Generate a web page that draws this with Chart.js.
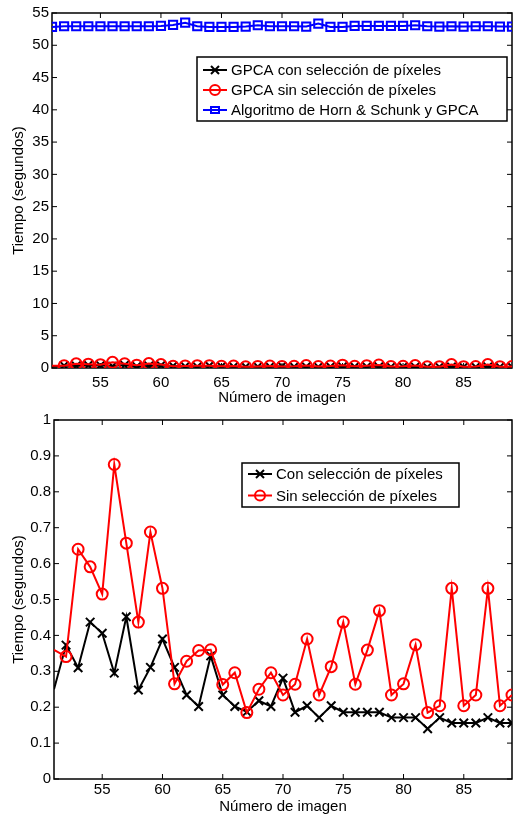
<!DOCTYPE html>
<html>
<head>
<meta charset="utf-8">
<script src="https://cdn.jsdelivr.net/npm/chart.js@4.4.0/dist/chart.umd.min.js"></script>
<style>
html, body { margin: 0; padding: 0; background: #fff; }
#wrap { position: relative; width: 520px; height: 817px; }
.box { position: absolute; left: 0; width: 520px; }
</style>
</head>
<body>
<div id="wrap">
    <div class="box" style="top:0;height:408px"><canvas id="chart-top"></canvas></div>
    <div class="box" style="top:408px;height:409px"><canvas id="chart-bottom"></canvas></div>
</div>
<script>
// datos
const imagenes = [51, 52, 53, 54, 55, 56, 57, 58, 59, 60, 61, 62, 63, 64, 65, 66, 67, 68, 69, 70,
                  71, 72, 73, 74, 75, 76, 77, 78, 79, 80, 81, 82, 83, 84, 85, 86, 87, 88, 89];
const conSeleccion = [0.25, 0.373, 0.31, 0.437, 0.406, 0.295, 0.452, 0.248, 0.311, 0.39,
                      0.311, 0.234, 0.202, 0.343, 0.234, 0.202, 0.187, 0.218, 0.202, 0.281,
                      0.186, 0.204, 0.171, 0.204, 0.186, 0.186, 0.186, 0.186, 0.171, 0.171,
                      0.171, 0.14, 0.171, 0.156, 0.156, 0.156, 0.171, 0.156, 0.156];
const sinSeleccion = [0.36, 0.341, 0.64, 0.591, 0.515, 0.876, 0.657, 0.437, 0.688, 0.531,
                      0.265, 0.328, 0.358, 0.36, 0.263, 0.296, 0.185, 0.25, 0.296, 0.234,
                      0.264, 0.39, 0.234, 0.313, 0.437, 0.264, 0.359, 0.469, 0.234, 0.265,
                      0.374, 0.185, 0.204, 0.531, 0.204, 0.234, 0.531, 0.204, 0.234];
const hornSchunk = [52.85, 52.95, 52.95, 52.95, 52.95, 52.95, 52.95, 52.95, 52.95, 53.0,
                    53.15, 53.5, 52.95, 52.85, 52.85, 52.85, 52.9, 53.1, 52.95, 52.95,
                    52.95, 52.9, 53.35, 52.85, 52.85, 53.0, 53.0, 53.0, 53.0, 53.0,
                    53.1, 52.95, 52.9, 52.95, 52.9, 52.95, 52.95, 52.9, 52.9];
const xTicks = [55, 60, 65, 70, 75, 80, 85];
const yTicksTop = [0, 5, 10, 15, 20, 25, 30, 35, 40, 45, 50, 55];
const yTicksBottom = [0, 0.1, 0.2, 0.3, 0.4, 0.5, 0.6, 0.7, 0.8, 0.9, 1];

const FONT = "'Liberation Sans', Arial, Helvetica, sans-serif";

function puntos(valores) {
    return imagenes.map((x, i) => ({ x: x, y: valores[i] }));
}

// el primer punto de las dos series GPCA no lleva marcador
function radios(r) {
    return imagenes.map((x, i) => i === 0 ? 0 : r);
}

// caja y marcas hacia dentro, estilo MATLAB
const cajaMatlab = {
    id: 'cajaMatlab',
    beforeDatasetsDraw(chart) {
        const { ctx, chartArea: a, scales } = chart;
        const len = 5;
        ctx.save();
        ctx.strokeStyle = '#000';
        ctx.lineWidth = 1.5;
        ctx.strokeRect(a.left, a.top, a.right - a.left, a.bottom - a.top);
        ctx.lineWidth = 1;
        ctx.beginPath();
        scales.x.ticks.forEach(t => {
            const px = scales.x.getPixelForValue(t.value);
            ctx.moveTo(px, a.bottom); ctx.lineTo(px, a.bottom - len);
            ctx.moveTo(px, a.top); ctx.lineTo(px, a.top + len);
        });
        scales.y.ticks.forEach(t => {
            const py = scales.y.getPixelForValue(t.value);
            ctx.moveTo(a.left, py); ctx.lineTo(a.left + len, py);
            ctx.moveTo(a.right, py); ctx.lineTo(a.right - len, py);
        });
        ctx.stroke();
        ctx.restore();
    }
};

function marcador(ctx, estilo, x, y, color) {
    ctx.strokeStyle = color;
    ctx.lineWidth = 2;
    ctx.beginPath();
    if (estilo === 'crossRot') {
        ctx.moveTo(x - 4, y - 4); ctx.lineTo(x + 4, y + 4);
        ctx.moveTo(x - 4, y + 4); ctx.lineTo(x + 4, y - 4);
    } else if (estilo === 'circle') {
        ctx.arc(x, y, 5, 0, Math.PI * 2);
    } else {
        ctx.rect(x - 4, y - 3, 8, 6);
    }
    ctx.stroke();
}

// leyenda dentro del area del grafico
const leyendaDentro = {
    id: 'leyendaDentro',
    afterDraw(chart, args, opts) {
        const ctx = chart.ctx;
        ctx.save();
        ctx.fillStyle = '#fff';
        ctx.fillRect(opts.left, opts.top, opts.width, opts.height);
        ctx.strokeStyle = '#000';
        ctx.lineWidth = 1.5;
        ctx.strokeRect(opts.left, opts.top, opts.width, opts.height);
        ctx.font = '15px ' + FONT;
        ctx.textBaseline = 'middle';
        chart.data.datasets.forEach((ds, i) => {
            const y = opts.top + opts.first + i * opts.row;
            const x0 = opts.left + 6;
            ctx.strokeStyle = ds.borderColor;
            ctx.lineWidth = 2;
            ctx.beginPath();
            ctx.moveTo(x0, y); ctx.lineTo(x0 + 24, y);
            ctx.stroke();
            marcador(ctx, ds.pointStyle, x0 + 12, y, ds.borderColor);
            ctx.fillStyle = '#000';
            ctx.fillText(ds.label, x0 + 28, y + 1);
        });
        ctx.restore();
    }
};

function ejes(ymin, ymax, yTicks, xMin, yWidth, xHeight, tickPad) {
    return {
        x: {
            type: 'linear',
            min: xMin, max: 89,
            grid: { display: false, drawTicks: false },
            border: { display: false },
            afterBuildTicks: s => { s.ticks = xTicks.map(v => ({ value: v })); },
            afterFit: s => { s.height = xHeight; },
            ticks: { color: '#000', font: { family: FONT, size: 15 }, padding: tickPad, maxRotation: 0 },
            title: { display: true, text: 'Número de imagen', color: '#000',
                     font: { family: FONT, size: 15 }, padding: { top: 0, bottom: 1 } }
        },
        y: {
            min: ymin, max: ymax,
            grid: { display: false, drawTicks: false },
            border: { display: false },
            afterBuildTicks: s => { s.ticks = yTicks.map(v => ({ value: v })); },
            afterFit: s => { s.width = yWidth; },
            ticks: { color: '#000', font: { family: FONT, size: 15 }, padding: 3,
                     callback: v => String(+Number(v).toFixed(2)) },
            title: { display: true, text: 'Tiempo (segundos)', color: '#000',
                     font: { family: FONT, size: 15 }, padding: { top: 10, bottom: 0 } }
        }
    };
}

function serie(label, valores, color, estilo, radio, orden, sinPrimero) {
    return {
        label: label,
        data: puntos(valores),
        borderColor: color,
        backgroundColor: color,
        borderWidth: 2,
        pointStyle: estilo,
        pointRadius: sinPrimero ? radios(radio) : radio,
        pointBorderWidth: 2,
        pointBorderColor: color,
        pointBackgroundColor: 'rgba(0,0,0,0)',
        tension: 0,
        order: orden
    };
}

document.addEventListener('DOMContentLoaded', () => {
    new Chart(document.getElementById('chart-top'), {
        type: 'line',
        data: {
            datasets: [
                serie('GPCA con selección de píxeles', conSeleccion, '#000000', 'crossRot', 6, 2, true),
                serie('GPCA sin selección de píxeles', sinSeleccion, '#ff0000', 'circle', 5.5, 1, true),
                serie('Algoritmo de Horn & Schunk y GPCA', hornSchunk, '#0000ff', 'rect', 5.8, 0, false)
            ]
        },
        options: {
            responsive: true,
            maintainAspectRatio: false,
            animation: false,
            layout: { padding: { top: 13, right: 2, left: 0, bottom: 0 } },
            plugins: {
                legend: { display: false },
                tooltip: { enabled: false },
                leyendaDentro: { left: 197, top: 57, width: 310, height: 64, first: 13, row: 20 }
            },
            scales: ejes(0, 55, yTicksTop, 51, 52, 40, 6)
        },
        plugins: [cajaMatlab, leyendaDentro]
    });

    new Chart(document.getElementById('chart-bottom'), {
        type: 'line',
        data: {
            datasets: [
                serie('Con selección de píxeles', conSeleccion, '#000000', 'crossRot', 6, 2, true),
                serie('Sin selección de píxeles', sinSeleccion, '#ff0000', 'circle', 5.5, 1, true)
            ]
        },
        options: {
            responsive: true,
            maintainAspectRatio: false,
            animation: false,
            layout: { padding: { top: 12, right: 4, left: 0, bottom: 0 } },
            plugins: {
                legend: { display: false },
                tooltip: { enabled: false },
                leyendaDentro: { left: 242, top: 55, width: 217, height: 44, first: 11, row: 21.5 }
            },
            scales: ejes(0, 1, yTicksBottom, 51, 54, 38, 2)
        },
        plugins: [cajaMatlab, leyendaDentro]
    });
});
</script>
</body>
</html>
